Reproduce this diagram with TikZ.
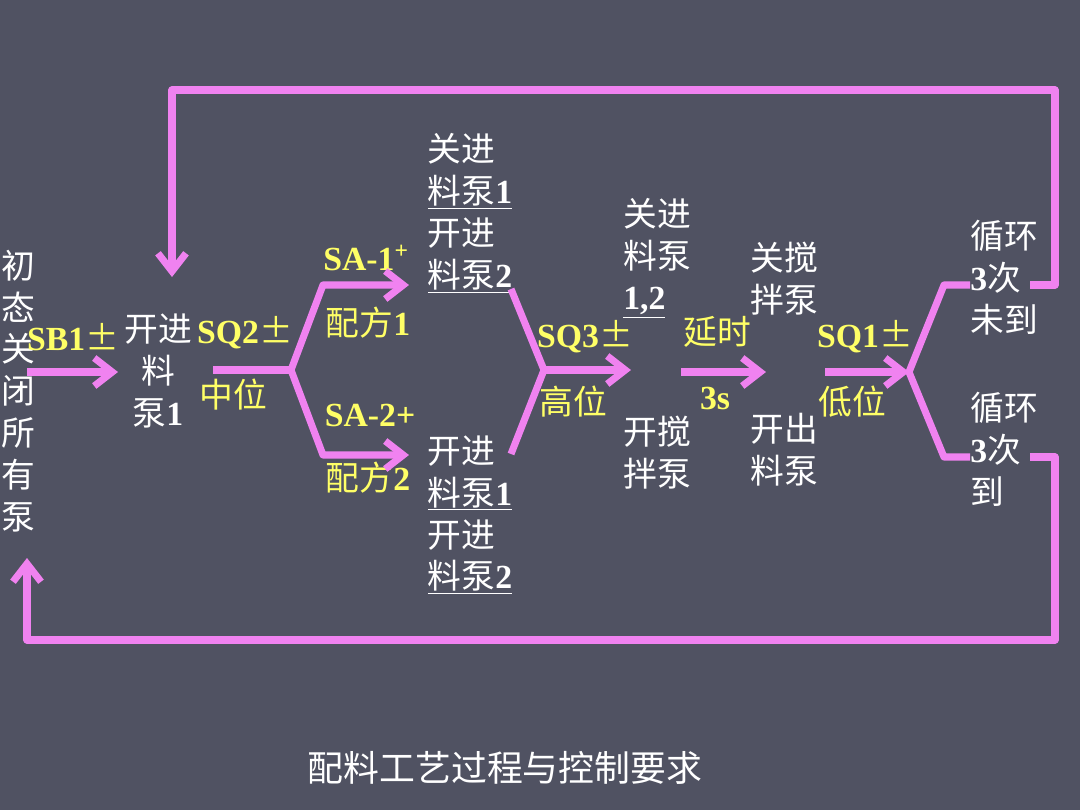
\documentclass[tikz,border=0pt]{standalone}
\usepackage{fontspec}
\setmainfont{Liberation Serif}
\newfontfamily\cjk{Noto Sans CJK SC}
\usetikzlibrary{arrows.meta}
\definecolor{slide}{RGB}{80,82,98}
\definecolor{flowpink}{RGB}{240,130,240}
\definecolor{condyellow}{RGB}{255,255,102}
\newcommand\dg[1]{{\rmfamily\bfseries #1}}
\newcommand\plmi{{\cjk\mdseries ±}}
\newcommand\cn[1]{{\cjk\mdseries #1}}

\begin{document}
\begin{tikzpicture}[x=0.025cm,y=-0.025cm,
  flow/.style={draw=flowpink,line width=5pt,line join=round},
  flowarrow/.style={flow,-{Straight Barb[length=4.5mm,width=7mm]}},
  act/.style={text=white,inner sep=0pt,font=\cjk\fontsize{24}{29.8}\selectfont},
  cond/.style={text=condyellow,inner sep=0pt,font=\bfseries\fontsize{24}{29}\selectfont}]
\fill[slide] (0,0) rectangle (1080,810);

% states
\node[act,align=center] (init) at (18,391) {初\\态\\关\\闭\\所\\有\\泵};
\node[act,align=center] (feed) at (158,371) {开进\\料\\泵\dg{1}};
\node[act,align=left] (close1) at (470,213) {关进\\\underline{料泵\dg{1}}\\开进\\\underline{料泵\dg{2}}};
\node[act,align=left] (open2) at (470,515) {开进\\\underline{料泵\dg{1}}\\开进\\\underline{料泵\dg{2}}};
\node[act,align=left] (stopfeed) at (657,258) {关进\\料泵\\\underline{\dg{1,2}}};
\node[act,align=left] (mixon) at (657,453) {开搅\\拌泵};
\node[act,align=left] (mixoff) at (784,279) {关搅\\拌泵};
\node[act,align=left] (outon) at (784,450) {开出\\料泵};
\node[act,align=left] (notdone) at (1004,278) {循环\\\dg{3}次\\未到};
\node[act,align=left] (done) at (1004,449) {循环\\\dg{3}次\\到};

% conditions
\node[cond] (sb1) at (73,337) {SB1\plmi};
\node[cond] (sq2) at (245,333) {SQ2\plmi};
\node[cond] (mid) at (233,395) {\cn{中位}};
\node[cond] (sa1) at (366,258) {SA-1\textsuperscript{+}};
\node[cond] (rec1) at (368,323) {\cn{配方}1};
\node[cond] (sa2) at (370,415) {SA-2+};
\node[cond] (rec2) at (368,478) {\cn{配方}2};
\node[cond] (sq3) at (585,337) {SQ3\plmi};
\node[cond] (high) at (573,402) {\cn{高位}};
\node[cond] (delay) at (717,332) {\cn{延时}};
\node[cond] (dt) at (715,398) {3s};
\node[cond] (sq1) at (865,337) {SQ1\plmi};
\node[cond] (low) at (852,402) {\cn{低位}};

\node[act,font=\cjk\fontsize{25.5}{30}\selectfont] (title) at (505,768) {配料工艺过程与控制要求};

% joints
\coordinate (s0) at (27,372);
\coordinate (s1) at (118,372);
\coordinate (f1) at (213,370);
\coordinate (f2) at (291,370);
\coordinate (f3) at (323,285);
\coordinate (f4) at (409,285);
\coordinate (f5) at (323,455);
\coordinate (f6) at (409,455);
\coordinate (m1) at (511,289);
\coordinate (m2) at (511,454);
\coordinate (m3) at (544,370);
\coordinate (m4) at (631,370);
\coordinate (d1) at (681,372);
\coordinate (d2) at (766,372);
\coordinate (q1) at (825,372);
\coordinate (q2) at (909,372);
\coordinate (b1) at (944,285);
\coordinate (b2) at (970,285);
\coordinate (b3) at (944,457);
\coordinate (b4) at (970,457);
\coordinate (r1) at (1030,285);
\coordinate (r2) at (1030,457);
\coordinate (back) at (172,277);
\coordinate (home) at (27,558);

\draw[flowarrow] (s0) -- (s1);
\draw[flow] (f1) -- (f2);
\draw[flowarrow] (f2) -- (f3) -- (f4);
\draw[flowarrow] (f2) -- (f5) -- (f6);
\draw[flow] (m1) -- (m3) -- (m2);
\draw[flowarrow] (m3) -- (m4);
\draw[flowarrow] (d1) -- (d2);
\draw[flowarrow] (q1) -- (q2);
\draw[flow] (b2) -- (b1) -- (q2) -- (b3) -- (b4);
\draw[flowarrow] (r1) -- (1055,285) -- (1055,90) -- (back |- 0,90) -- (back);
\draw[flowarrow] (r2) -- (1055,457) -- (1055,640) -- (home |- 0,640) -- (home);
\end{tikzpicture}
\end{document}
